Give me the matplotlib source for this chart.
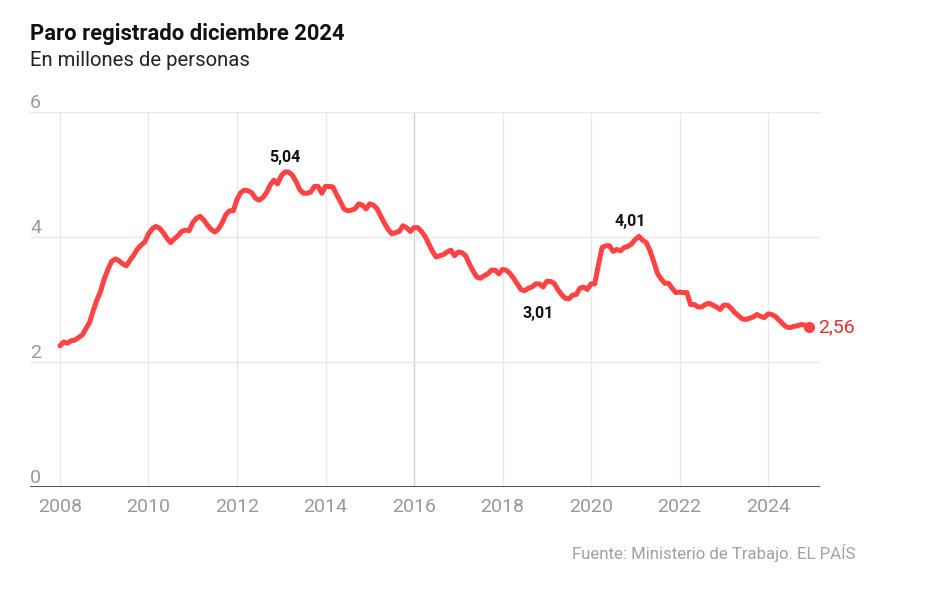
import numpy as np
import matplotlib
matplotlib.use('Agg')
import matplotlib.pyplot as plt

# registered unemployment, millions, monthly Jan 2008 - Dec 2024
start_year = 2008
paro = [
    2.26, 2.32, 2.30, 2.34, 2.35, 2.39, 2.43, 2.53, 2.63, 2.82, 2.99, 3.13,  # 2008
    3.33, 3.48, 3.61, 3.65, 3.62, 3.57, 3.54, 3.63, 3.71, 3.81, 3.87, 3.92,  # 2009
    4.05, 4.13, 4.17, 4.14, 4.07, 3.98, 3.91, 3.97, 4.02, 4.09, 4.11, 4.10,  # 2010
    4.23, 4.30, 4.33, 4.27, 4.19, 4.12, 4.08, 4.13, 4.23, 4.36, 4.42, 4.42,  # 2011
    4.60, 4.71, 4.75, 4.74, 4.71, 4.62, 4.59, 4.63, 4.71, 4.83, 4.91, 4.85,  # 2012
    4.98, 5.04, 5.04, 4.99, 4.89, 4.76, 4.70, 4.70, 4.72, 4.81, 4.81, 4.70,  # 2013
    4.81, 4.81, 4.80, 4.68, 4.57, 4.45, 4.42, 4.43, 4.45, 4.53, 4.51, 4.45,  # 2014
    4.53, 4.51, 4.45, 4.33, 4.22, 4.12, 4.05, 4.07, 4.09, 4.18, 4.15, 4.09,  # 2015
    4.15, 4.15, 4.09, 4.01, 3.89, 3.77, 3.68, 3.70, 3.72, 3.76, 3.79, 3.70,  # 2016
    3.76, 3.75, 3.70, 3.57, 3.46, 3.36, 3.34, 3.38, 3.41, 3.47, 3.47, 3.41,  # 2017
    3.48, 3.47, 3.42, 3.34, 3.25, 3.16, 3.14, 3.18, 3.20, 3.25, 3.25, 3.20,  # 2018
    3.29, 3.29, 3.26, 3.16, 3.08, 3.02, 3.01, 3.07, 3.08, 3.18, 3.20, 3.16,  # 2019
    3.25, 3.25, 3.55, 3.83, 3.86, 3.86, 3.77, 3.80, 3.78, 3.83, 3.85, 3.89,  # 2020
    3.96, 4.01, 3.95, 3.91, 3.78, 3.61, 3.42, 3.33, 3.26, 3.26, 3.18, 3.11,  # 2021
    3.12, 3.11, 3.11, 2.92, 2.92, 2.88, 2.88, 2.92, 2.94, 2.91, 2.88, 2.84,  # 2022
    2.91, 2.91, 2.86, 2.79, 2.74, 2.69, 2.68, 2.70, 2.72, 2.76, 2.73, 2.71,  # 2023
    2.77, 2.76, 2.73, 2.67, 2.61, 2.56, 2.55, 2.57, 2.58, 2.60, 2.59, 2.56,  # 2024
]
tick_years = [2008, 2010, 2012, 2014, 2016, 2018, 2020, 2022, 2024]
y_ticks = [0, 2, 4, 6]
# labelled points: (index, label, offset in points)
notes = [(61, '5,04', (0, 5)), (138, '3,01', (-22, -5)), (157, '4,01', (-6, 5))]

plt.rcParams['font.family'] = ['Roboto', 'DejaVu Sans']
red = '#ff4242'
grey = '#999999'

t = start_year + np.arange(len(paro)) / 12.0
vals = np.array(paro)

fig = plt.figure(figsize=(9.25, 6.05), dpi=100)
ax = fig.add_axes([30/925, 1 - 487/605, 790/925, 375/605])
ax.set_xlim(2008 - 30/44.25, 2024 + 52/44.25)
ax.set_ylim(0, 6)

for yr in range(2008, 2025, 2):
    c = '#d0d0d0' if yr == 2016 else '#e8e8e8'
    ax.axvline(yr, color=c, lw=1, zorder=1)
for yv in y_ticks[1:]:
    ax.axhline(yv, color='#e8e8e8', lw=1, zorder=1)
ax.axhline(0, color='#333333', lw=1.2, zorder=2)

for s in ax.spines.values():
    s.set_visible(False)
ax.set_xticks(tick_years)
ax.set_xticklabels([str(y) for y in tick_years], color=grey, fontsize=14)
ax.tick_params(axis='x', length=0, pad=8)
ax.set_yticks([])
for yv in y_ticks:
    ax.text(0, yv, str(yv), transform=ax.get_yaxis_transform(), color=grey,
            fontsize=14, ha='left', va='bottom')

ax.plot(t, vals, color=red, lw=3.6, solid_joinstyle='round',
        solid_capstyle='round', zorder=3)
ax.plot(t[-1], vals[-1], 'o', color=red, ms=7, zorder=4)
ax.annotate('2,56', (t[-1], vals[-1]), xytext=(7, 0), textcoords='offset points',
            color='#e03030', fontsize=14, va='center', ha='left')

for i, lab, off in notes:
    ax.annotate(lab, (t[i], vals[i]), xytext=off, textcoords='offset points',
                ha='center', va='bottom' if off[1] > 0 else 'top',
                fontsize=11.5, fontweight='bold', color='#111111')

fig.text(30/925, 1 - 34/605, 'Paro registrado diciembre 2024', fontsize=15.8,
         fontweight='bold', color='#111111', va='center', ha='left')
fig.text(30/925, 1 - 61/605, 'En millones de personas', fontsize=14.6,
         color='#222222', va='center', ha='left')
fig.text(855/925, 1 - 553/605, 'Fuente: Ministerio de Trabajo. EL PAÍS',
         fontsize=12.1, color='#a0a0a0', va='center', ha='right')

fig.savefig('out.png', dpi=100)
